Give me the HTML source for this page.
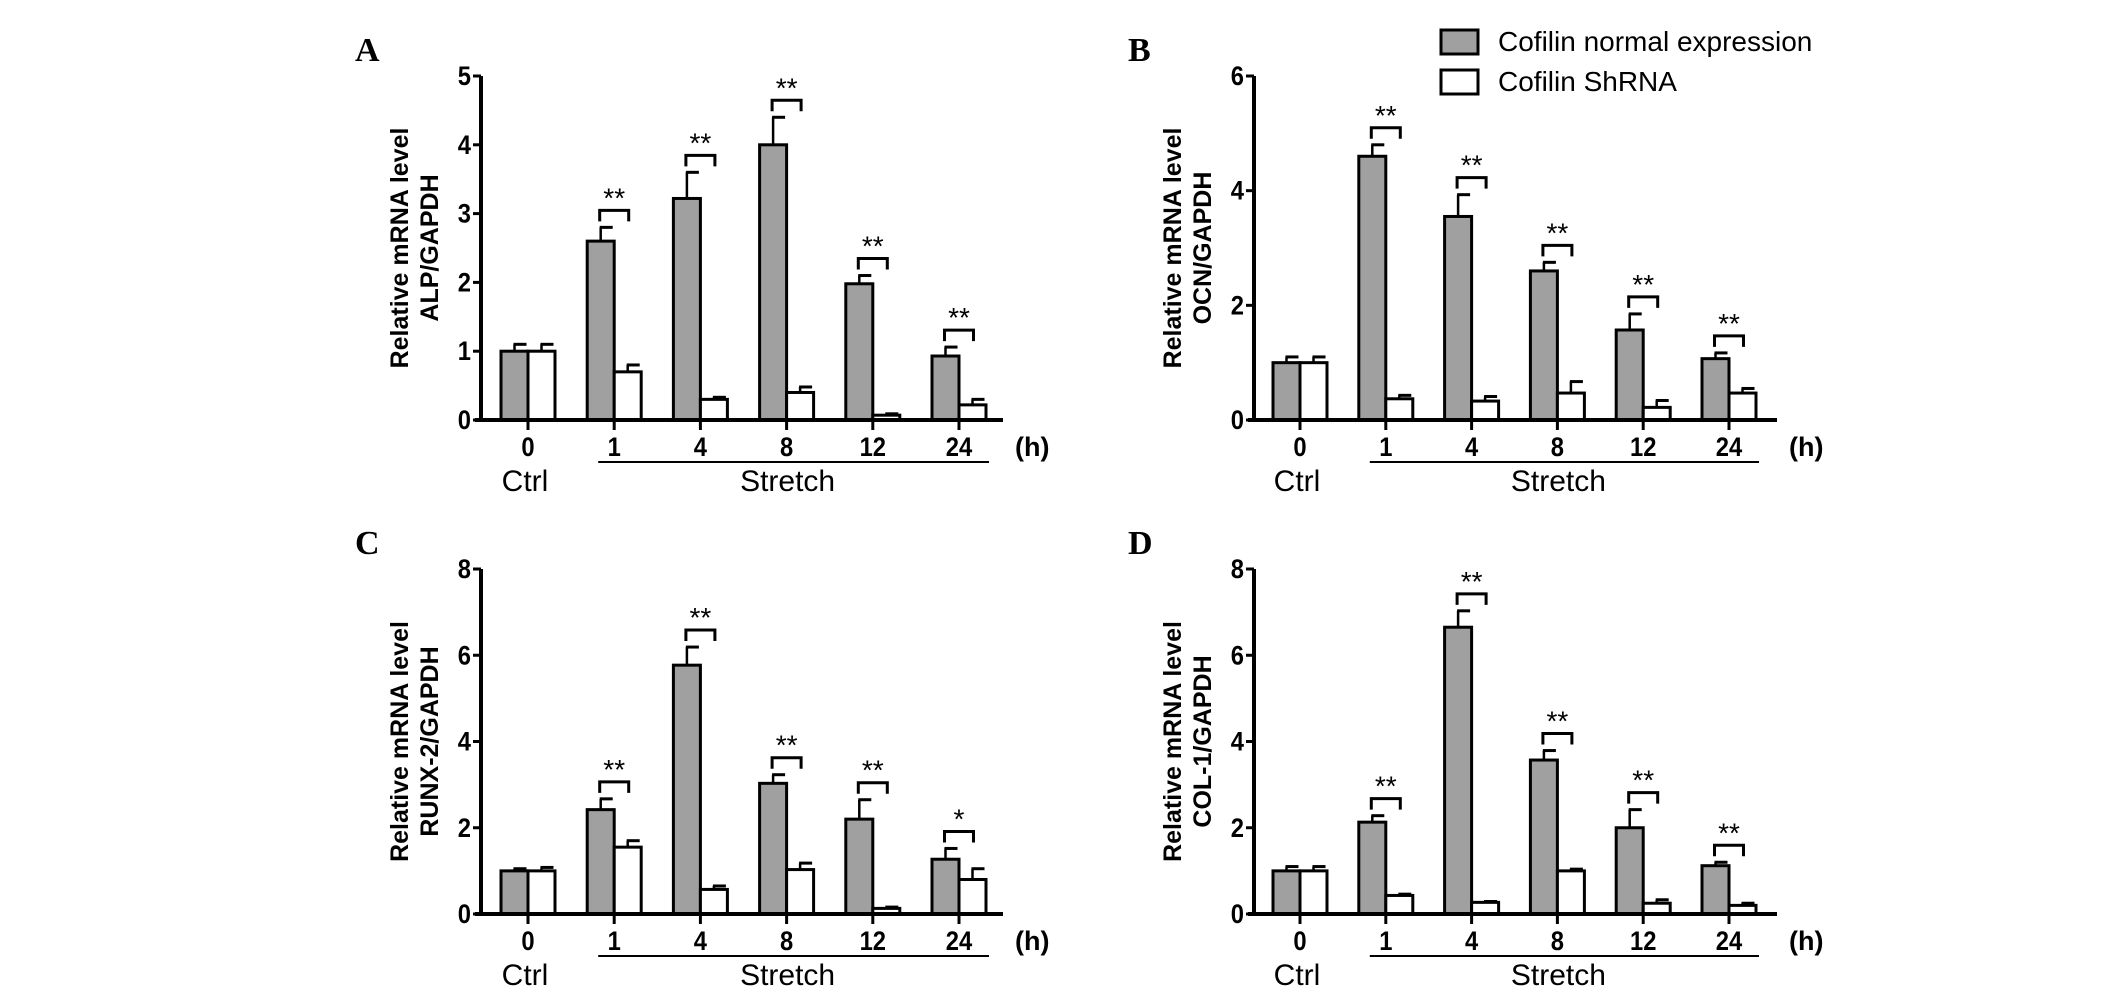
<!DOCTYPE html>
<html><head><meta charset="utf-8"><style>
html,body{margin:0;padding:0;background:#fff;}
svg{display:block;}
text{font-family:"Liberation Sans Narrow","Liberation Sans",sans-serif;}
.lbl{font-family:"Liberation Sans",sans-serif;font-weight:bold;}
.pl{font-family:"Liberation Serif",serif;font-weight:bold;font-size:34px;}
</style></head><body>
<svg id="fig" width="2126" height="996" viewBox="0 0 2126 996" xmlns="http://www.w3.org/2000/svg">
<g>
<rect x="1441" y="30" width="37" height="24" fill="#a0a0a0" stroke="#000" stroke-width="3"/>
<text x="1498" y="51" font-size="28">Cofilin normal expression</text>
<rect x="1441" y="70" width="37" height="24" fill="#fff" stroke="#000" stroke-width="3"/>
<text x="1498" y="91" font-size="28">Cofilin ShRNA</text>
</g>
</svg>
<script>
const categories = ["0","1","4","8","12","24"];
const alpNormal = [1.0,2.6,3.22,4.0,1.98,0.93];
const alpNormalErr = [0.1,0.2,0.38,0.4,0.12,0.13];
const alpShrna = [1.0,0.7,0.3,0.4,0.07,0.22];
const alpShrnaErr = [0.1,0.1,0.03,0.08,0.02,0.08];
const ocnNormal = [1.0,4.6,3.55,2.6,1.57,1.07];
const ocnNormalErr = [0.1,0.2,0.38,0.15,0.28,0.1];
const ocnShrna = [1.0,0.37,0.33,0.47,0.22,0.47];
const ocnShrnaErr = [0.1,0.06,0.08,0.2,0.12,0.08];
const runxNormal = [1.0,2.42,5.77,3.03,2.2,1.27];
const runxNormalErr = [0.05,0.25,0.42,0.2,0.45,0.25];
const runxShrna = [1.0,1.55,0.57,1.03,0.13,0.8];
const runxShrnaErr = [0.08,0.15,0.08,0.15,0.03,0.25];
const colNormal = [1.0,2.13,6.65,3.57,2.0,1.12];
const colNormalErr = [0.1,0.15,0.38,0.22,0.42,0.08];
const colShrna = [1.0,0.43,0.27,1.0,0.25,0.2];
const colShrnaErr = [0.1,0.03,0.02,0.04,0.08,0.05];
const alpTicks = [0,1,2,3,4,5];
const ocnTicks = [0,2,4,6];
const runxTicks = [0,2,4,6,8];
const colTicks = [0,2,4,6,8];
const alpSig = ["","**","**","**","**","**"];
const ocnSig = ["","**","**","**","**","**"];
const runxSig = ["","**","**","**","**","*"];
const colSig = ["","**","**","**","**","**"];

const NS="http://www.w3.org/2000/svg";
const svg=document.getElementById('fig');
function mk(tag,attrs,parent,txt){const e=document.createElementNS(NS,tag);for(const k in attrs)e.setAttribute(k,attrs[k]);if(txt!==undefined)e.textContent=txt;parent.appendChild(e);return e;}

function panel(o){
  const g=mk('g',{},svg);
  
  
  const x0=o.ax, y0=o.y0, yTop=o.yTop, ymax=o.ticks[o.ticks.length-1];
  const yS=v=>y0-(v/ymax)*(y0-yTop);
  const xS=i=>o.x0c+i*o.step;
  const bw=27;
  const pl=mk('text',{x:o.ax-126,y:yTop-15,class:'pl'},g,o.letter);
  
  
  for(let i=0;i<categories.length;i++){
    const cx=xS(i);
    [[o.n,o.ne,'#a0a0a0',cx-bw],[o.s,o.se,'#fff',cx]].forEach((d,k)=>{
      const v=d[0][i],e=d[1][i],bx=d[3];
      const top=yS(v), et=yS(v+e), mx=bx+bw/2;
      const ln=mk('line',{x1:mx,x2:mx,y1:top,y2:et,stroke:'#000','stroke-width':2.5},g);
      
      
      const cap=mk('line',{x1:mx-1,x2:mx+12,y1:et,y2:et,stroke:'#000','stroke-width':3},g);
      
      
      const r=mk('rect',{x:bx,y:top,width:bw,height:y0-top,fill:d[2],stroke:'#000','stroke-width':3},g);
      
      
    });
    const sig=o.sig[i];
    if(sig){
      const top=yS(Math.max(o.n[i]+o.ne[i],o.s[i]+o.se[i]))-17;
      const x1=cx-bw/2-1,x2=cx+bw/2+1;
      const br=mk('path',{d:`M${x1} ${top+11}V${top}H${x2}V${top+11}`,fill:'none',stroke:'#000','stroke-width':3},g);
      
      
      const st=mk('text',{x:cx,y:top-3,'text-anchor':'middle','font-size':28},g,sig);
      
      
    }
    const tk=mk('line',{x1:cx,x2:cx,y1:y0,y2:y0+10,stroke:'#000','stroke-width':3},g);
    
    
    const tl=mk('text',{x:0,y:0,'text-anchor':'middle','font-size':27,'font-weight':'bold',transform:`translate(${cx},${y0+36}) scale(0.88,1)`},g,categories[i]);
    
    
  }
  const ya=mk('line',{x1:x0,x2:x0,y1:yTop,y2:y0+2,stroke:'#000','stroke-width':4},g);
  
  
  const xa=mk('line',{x1:x0-6,x2:o.xEnd,y1:y0,y2:y0,stroke:'#000','stroke-width':4},g);
  
  
  o.ticks.forEach(t=>{
    const y=yS(t);
    const tm=mk('line',{x1:x0-8,x2:x0,y1:y,y2:y,stroke:'#000','stroke-width':3},g);
    
    
    const tl=mk('text',{x:0,y:0,'text-anchor':'end','font-size':27,'font-weight':'bold',transform:`translate(${x0-10},${y+9}) scale(0.88,1)`},g,String(t));
    
    
  });
  const h=mk('text',{x:o.xEnd+12,y:y0+36,'font-size':27,'font-weight':'bold'},g,'(h)');
  
  
  const sl=mk('line',{x1:xS(1)-16,x2:xS(5)+30,y1:y0+42,y2:y0+42,stroke:'#000','stroke-width':2},g);
  
  
  const c=mk('text',{x:xS(0)-3,y:y0+71,'text-anchor':'middle','font-size':30},g,'Ctrl');
  
  
  const s=mk('text',{x:(xS(1)+xS(5))/2+1,y:y0+71,'text-anchor':'middle','font-size':30},g,'Stretch');
  
  
  const cy=(y0+yTop)/2;
  const t1=mk('text',{x:0,y:0,'text-anchor':'middle','font-size':25,class:'lbl',transform:`translate(${x0-73},${cy}) rotate(-90)`},g,'Relative mRNA level');
  
  
  const t2=mk('text',{x:0,y:0,'text-anchor':'middle','font-size':25,class:'lbl',transform:`translate(${x0-43},${cy}) rotate(-90)`},g,o.gene);
  
  
}
panel({key:'alp',letter:'A',gene:'ALP/GAPDH',ax:481,y0:420,yTop:76,x0c:528,step:86.2,xEnd:1003,ticks:alpTicks,n:alpNormal,ne:alpNormalErr,s:alpShrna,se:alpShrnaErr,sig:alpSig});
panel({key:'ocn',letter:'B',gene:'OCN/GAPDH',ax:1254,y0:420,yTop:76,x0c:1300,step:85.8,xEnd:1777,ticks:ocnTicks,n:ocnNormal,ne:ocnNormalErr,s:ocnShrna,se:ocnShrnaErr,sig:ocnSig});
panel({key:'runx',letter:'C',gene:'RUNX-2/GAPDH',ax:481,y0:914,yTop:569,x0c:528,step:86.2,xEnd:1003,ticks:runxTicks,n:runxNormal,ne:runxNormalErr,s:runxShrna,se:runxShrnaErr,sig:runxSig});
panel({key:'col',letter:'D',gene:'COL-1/GAPDH',ax:1254,y0:914,yTop:569,x0c:1300,step:85.8,xEnd:1777,ticks:colTicks,n:colNormal,ne:colNormalErr,s:colShrna,se:colShrnaErr,sig:colSig});
</script>
</body></html>
